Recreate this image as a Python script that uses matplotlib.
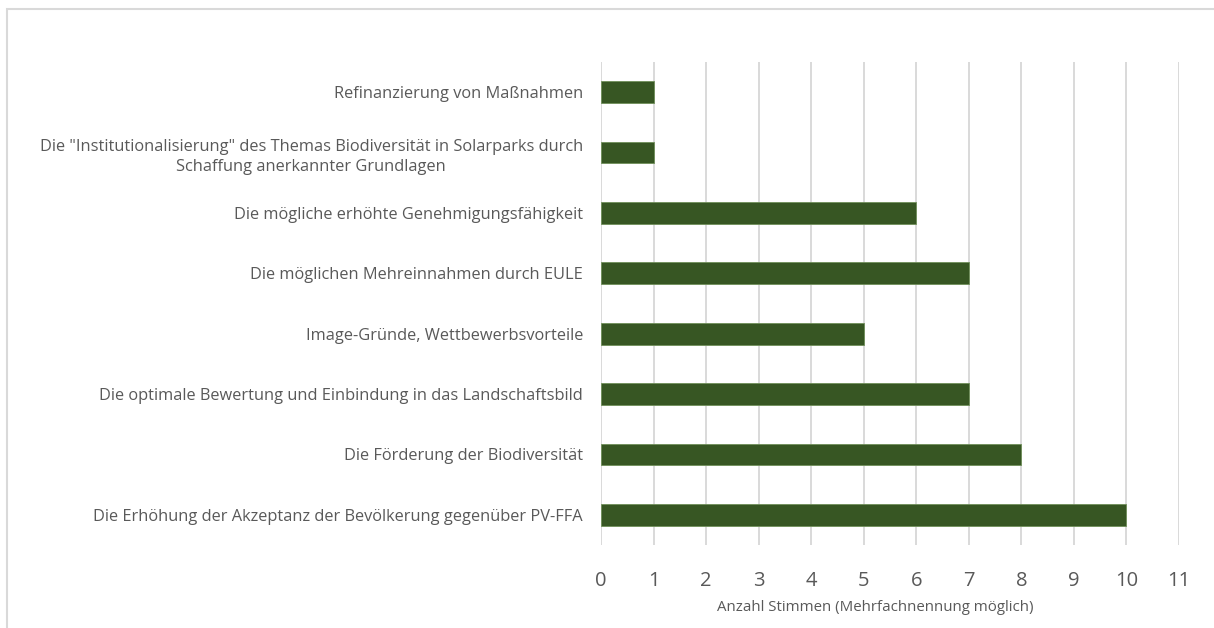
import matplotlib
matplotlib.use("Agg")
import matplotlib.pyplot as plt
from matplotlib.patches import Rectangle

categories = [
    "Die Erhöhung der Akzeptanz der Bevölkerung gegenüber PV-FFA",
    "Die Förderung der Biodiversität",
    "Die optimale Bewertung und Einbindung in das Landschaftsbild",
    "Image-Gründe, Wettbewerbsvorteile",
    "Die möglichen Mehreinnahmen durch EULE",
    "Die mögliche erhöhte Genehmigungsfähigkeit",
    "Die \"Institutionalisierung\" des Themas Biodiversität in Solarparks durch\nSchaffung anerkannter Grundlagen",
    "Refinanzierung von Maßnahmen",
]
values = [10, 8, 7, 5, 7, 6, 1, 1]
xticks = list(range(0, 12))
xlabel = "Anzahl Stimmen (Mehrfachnennung möglich)"

plt.rcParams['font.family'] = ['Open Sans', 'DejaVu Sans']
W, H = 1214, 628
fig = plt.figure(figsize=(W / 100, H / 100), dpi=100)
ax = fig.add_axes([601 / W, 1 - 545 / H, (1179 - 601) / W, (545 - 62) / H])

text_color = "#595959"
ax.barh(range(len(values)), values, height=0.36, color="#375623",
        edgecolor="#6f8f5a", linewidth=0.6, zorder=3)
ax.set_xlim(0, 11)
ax.set_ylim(-0.5, len(values) - 0.5)
ax.set_xticks(xticks)
ax.set_xticklabels([str(t) for t in xticks], fontsize=14.5, color=text_color)
ax.set_yticks(range(len(values)))
ax.set_yticklabels(categories, fontsize=11.8, color=text_color)
for lab in ax.get_yticklabels():
    lab.set_multialignment('center')
    lab.set_linespacing(1.35)
ax.tick_params(axis='y', length=0, pad=13)
ax.tick_params(axis='x', length=0, pad=19)
ax.grid(axis='x', color="#d9d9d9", linewidth=1.4, zorder=0)
for s in ax.spines.values():
    s.set_visible(False)
ax.set_xlabel(xlabel, fontsize=10.8, color=text_color)
ax.xaxis.set_label_coords(0.474, -0.13)
ax.xaxis.label.set_verticalalignment('center')

fig.patches.append(Rectangle((7 / W, -0.1), 1.2, 1 - 9 / H + 0.1,
                             transform=fig.transFigure, fill=False,
                             edgecolor="#d9d9d9", linewidth=1.5))
fig.savefig("out.png", dpi=100, facecolor="white")
